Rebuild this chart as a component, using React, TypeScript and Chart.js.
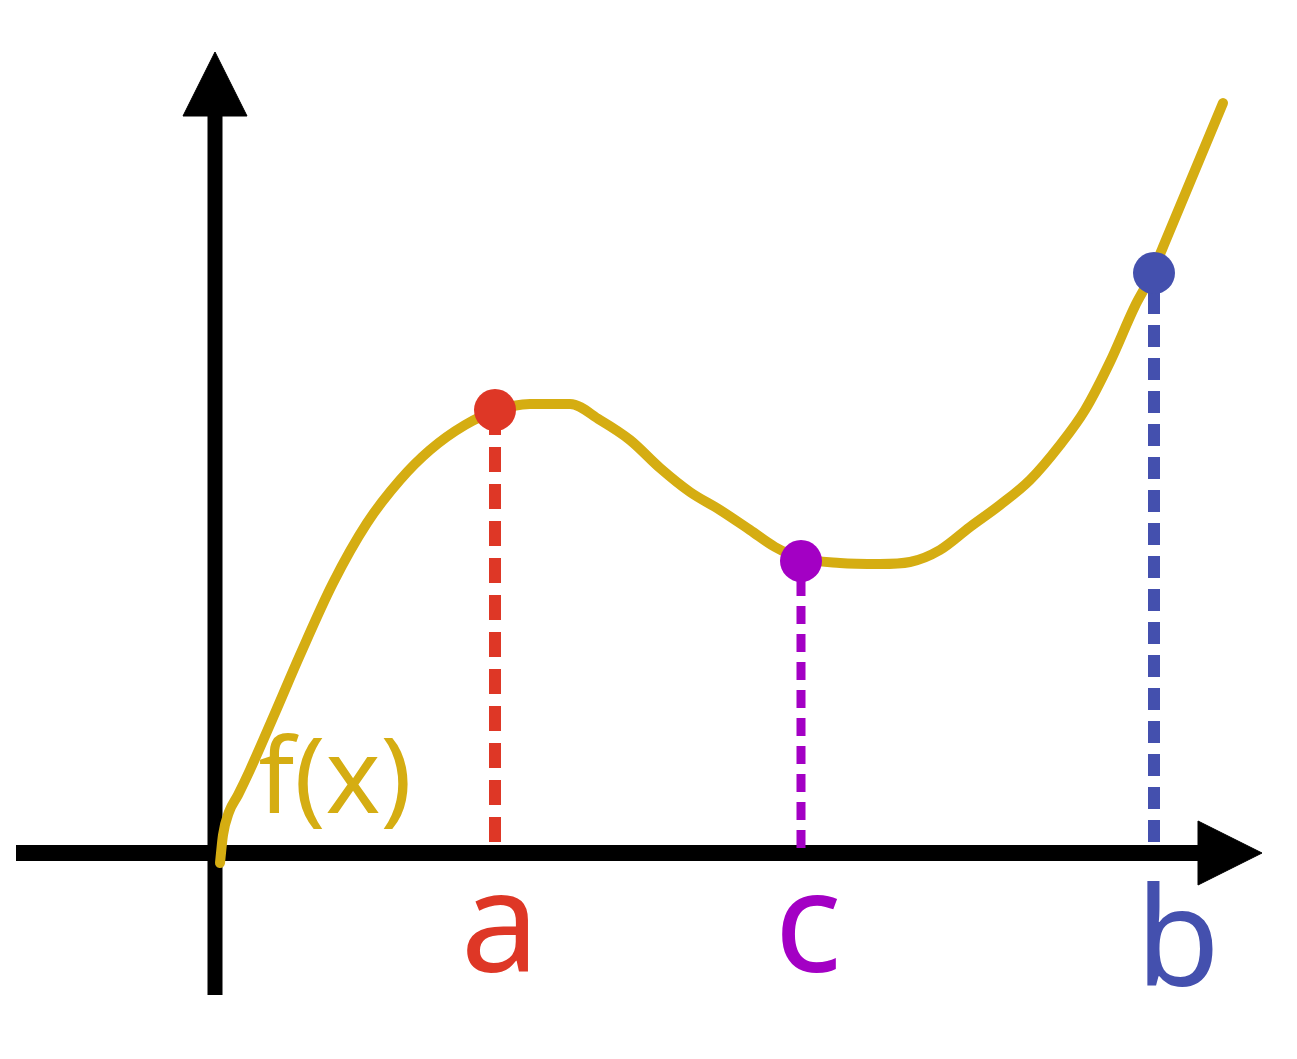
import React, { useEffect, useRef } from "react";
import { Chart, registerables } from "chart.js";

Chart.register(...registerables);

// Curve f(x) sample points (units: 1 = 100px of the drawing)
const curveX = [0.05, 0.08, 0.14, 0.23, 0.35, 0.60, 0.85, 1.18, 1.52, 1.85, 2.15, 2.50, 2.80, 3.15, 3.55, 3.85, 4.15, 4.45, 4.75, 5.05, 5.35, 5.60, 5.85, 6.25, 6.65, 6.95, 7.25, 7.55, 7.85, 8.15, 8.45, 8.70, 8.95, 9.20, 9.35, 9.48, 9.78, 10.08];
const curveY = [-0.10, 0.18, 0.41, 0.58, 0.83, 1.40, 1.98, 2.70, 3.30, 3.73, 4.03, 4.28, 4.42, 4.49, 4.49, 4.33, 4.13, 3.85, 3.61, 3.43, 3.23, 3.06, 2.95, 2.90, 2.89, 2.91, 3.03, 3.26, 3.48, 3.73, 4.08, 4.43, 4.91, 5.47, 5.75, 6.06, 6.78, 7.50];

// Marked points a, c, b
const markerNames = ["a", "c", "b"];
const markerX = [2.80, 5.86, 9.39];
const markerY = [4.43, 2.92, 5.80];
const dropBottom = [0.11, 0.05, 0.11];

// Axes
const xAxisX = [-1.99, 9.85];
const xAxisY = [0, 0];
const xArrowX = [9.83, 10.47, 9.83, 9.83];
const xArrowY = [0.32, 0, -0.32, 0.32];
const yAxisX = [0, 0];
const yAxisY = [-1.42, 7.38];
const yArrowX = [-0.32, 0, 0.32, -0.32];
const yArrowY = [7.37, 8.01, 7.37, 7.37];

// Text labels
const labelTexts = ["a", "c", "b", "f(x)"];
const labelX = [2.85, 5.93, 9.63, 1.20];
const labelY = [-1.19, -1.19, -1.33, 0.40];

// Styles
const W = 1297;
const H = 1059;
const GOLD = "#D5AD12";
const markerColors = ["#DE3726", "#A300C4", "#4450AE"];
const dropWidths = [12, 9, 12];
const dropDashes = [[25, 12], [18, 10], [22, 11]];
const labelColors = ["#DE3726", "#A300C4", "#4450AE", GOLD];
const labelFonts = ["140px 'Noto Sans'", "140px 'Noto Sans'", "137px 'Noto Sans'", "104px 'Noto Sans'"];

const zip = (xs: number[], ys: number[]) => xs.map((x, i) => ({ x, y: ys[i] }));

const textPlugin = {
  id: "textLabels",
  afterDatasetsDraw(chart: any) {
    const { ctx, scales } = chart;
    ctx.save();
    ctx.textAlign = "center";
    ctx.textBaseline = "alphabetic";
    labelTexts.forEach((t, i) => {
      ctx.font = labelFonts[i];
      ctx.fillStyle = labelColors[i];
      ctx.fillText(t, scales.x.getPixelForValue(labelX[i]), scales.y.getPixelForValue(labelY[i]));
    });
    ctx.restore();
  },
};

export default function App() {
  const ref = useRef<HTMLCanvasElement>(null);
  useEffect(() => {
    const canvas = ref.current!;
    const base = { showLine: true, pointRadius: 0, pointHoverRadius: 0, clip: false as any };
    const datasets: any[] = [
      { ...base, data: zip(xAxisX, xAxisY), borderColor: "#000", borderWidth: 16, borderCapStyle: "butt", order: 10 },
      { ...base, data: zip(yAxisX, yAxisY), borderColor: "#000", borderWidth: 15, borderCapStyle: "butt", order: 10 },
      { ...base, data: zip(xArrowX, xArrowY), borderColor: "#000", backgroundColor: "#000", borderWidth: 1, fill: "shape", order: 10 },
      { ...base, data: zip(yArrowX, yArrowY), borderColor: "#000", backgroundColor: "#000", borderWidth: 1, fill: "shape", order: 10 },
      ...markerNames.map((_, i) => ({
        ...base,
        data: [{ x: markerX[i], y: dropBottom[i] }, { x: markerX[i], y: markerY[i] }],
        borderColor: markerColors[i],
        borderWidth: dropWidths[i],
        borderDash: dropDashes[i],
        borderCapStyle: "butt",
        order: 5,
      })),
      {
        ...base,
        data: zip(curveX, curveY),
        borderColor: GOLD,
        borderWidth: 10,
        borderCapStyle: "round",
        borderJoinStyle: "round",
        cubicInterpolationMode: "monotone",
        order: 3,
      },
      {
        showLine: false,
        clip: false,
        data: zip(markerX, markerY),
        pointRadius: 21,
        pointHoverRadius: 21,
        pointBorderWidth: 0,
        pointBackgroundColor: markerColors,
        pointBorderColor: markerColors,
        order: 1,
      },
    ];
    const chart = new Chart(canvas, {
      type: "scatter",
      data: { datasets },
      options: {
        animation: false,
        responsive: false,
        devicePixelRatio: 1,
        events: [],
        layout: { padding: 0, autoPadding: false },
        scales: {
          x: { type: "linear", min: -2.15, max: 10.82, display: false },
          y: { type: "linear", min: -2.06, max: 8.53, display: false },
        },
        plugins: { legend: { display: false }, tooltip: { enabled: false } },
      },
      plugins: [textPlugin],
    } as any);
    return () => chart.destroy();
  }, []);
  return (
    <div style={{ position: "absolute", left: 0, top: 0, width: W, height: H, background: "#fff" }}>
      <canvas ref={ref} width={W} height={H} style={{ display: "block", width: W, height: H }} />
    </div>
  );
}
